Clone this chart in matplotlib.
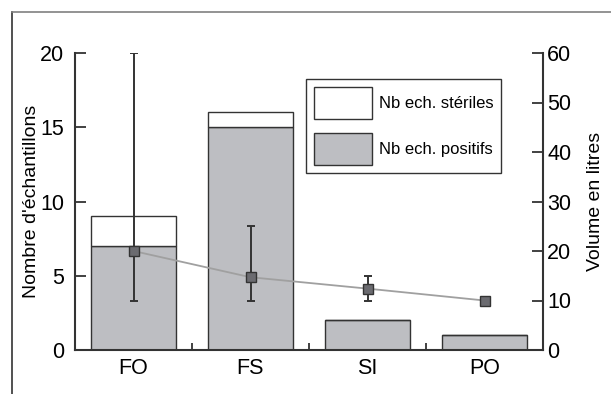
import matplotlib
matplotlib.use("Agg")
import matplotlib.pyplot as plt
from matplotlib.patches import Patch
from matplotlib.lines import Line2D
import numpy as np

categories = ["FO", "FS", "SI", "PO"]
positifs = [7, 15, 2, 1]
steriles = [2, 1, 0, 0]
volume = [20, 14.7, 12.4, 10]
vol_low = [10, 10, 10, 10]
vol_high = [60, 25, 15, 10]

W, H = 611, 394
fig = plt.figure(figsize=(W / 100, H / 100), dpi=100)

font = ['Liberation Sans', 'DejaVu Sans']

# outer frame
fig.add_artist(Line2D([12 / W, 12 / W], [0, 1 - 12 / H], transform=fig.transFigure, color='#333333', lw=1.2))
fig.add_artist(Line2D([12 / W, 1], [1 - 12 / H, 1 - 12 / H], transform=fig.transFigure, color='#808080', lw=1.2))

ax = fig.add_axes([75 / W, 1 - 350 / H, (543 - 75) / W, (350 - 53) / H])
x = np.arange(len(categories))
bar_fill = '#bdbec2'
edge = '#333333'
ax.bar(x, positifs, width=0.73, color=bar_fill, edgecolor=edge, linewidth=1.0, zorder=2)
ax.bar(x, steriles, width=0.73, bottom=positifs, color='white', edgecolor=edge, linewidth=1.0, zorder=2)

ax.set_xlim(-0.5, 3.5)
ax.set_ylim(0, 20)
ax.set_yticks([0, 5, 10, 15, 20])
ax.set_xticks(x)
ax.set_xticklabels(categories)
ax.set_xticks([0.5, 1.5, 2.5], minor=True)
ax.tick_params(axis='x', which='major', length=0, pad=6)
ax.tick_params(axis='x', which='minor', length=5, width=1.3, direction='in', color=edge)
ax.tick_params(axis='y', which='major', length=8, width=1.3, direction='in', pad=8, color=edge)
for lab in ax.get_xticklabels() + ax.get_yticklabels():
    lab.set_family(font)
    lab.set_fontsize(15.5)
ax.spines['top'].set_visible(False)
ax.spines['right'].set_visible(False)
for s in ['left', 'bottom']:
    ax.spines[s].set_color(edge)
    ax.spines[s].set_linewidth(1.5)
ax.set_ylabel("Nombre d'échantillons", family=font, fontsize=14, labelpad=0)

ax2 = ax.twinx()
ax2.set_ylim(0, 60)
ax2.set_yticks([0, 10, 20, 30, 40, 50, 60])
ax2.tick_params(axis='y', length=8, width=1.3, direction='in', pad=3, color=edge)
for lab in ax2.get_yticklabels():
    lab.set_family(font)
    lab.set_fontsize(15.5)
for s in ['top', 'left', 'bottom']:
    ax2.spines[s].set_visible(False)
ax2.spines['right'].set_color(edge)
ax2.spines['right'].set_linewidth(1.5)
ax2.set_ylabel("Volume en litres", family=font, fontsize=14, labelpad=11)

vol = np.array(volume)
yerr = np.array([vol - np.array(vol_low), np.array(vol_high) - vol])
ax2.plot(x, vol, color='#a0a0a0', lw=1.3, zorder=3)
ax2.errorbar(x, vol, yerr=yerr, fmt='none', ecolor='#333333', elinewidth=1.4, capsize=3, capthick=1.4, zorder=4)
ax2.plot(x, vol, linestyle='none', marker='s', markersize=7, markerfacecolor='#6b6b70', markeredgecolor='#333333', markeredgewidth=1.0, zorder=5)

handles = [Patch(facecolor='white', edgecolor=edge, linewidth=1.0, label='Nb ech. stériles'),
           Patch(facecolor=bar_fill, edgecolor=edge, linewidth=1.0, label='Nb ech. positifs')]
leg = ax2.legend(handles=handles, loc='upper left', bbox_to_anchor=(306 / W, 1 - 79 / H),
                 bbox_transform=fig.transFigure, borderaxespad=0, fancybox=False,
                 prop={'family': font, 'size': 12}, handlelength=3.5, handleheight=2.6,
                 labelspacing=0.85, handletextpad=0.45, borderpad=0.45, framealpha=1)
leg.get_frame().set_edgecolor(edge)
leg.get_frame().set_linewidth(1.0)

fig.savefig("out.png", dpi=100)
